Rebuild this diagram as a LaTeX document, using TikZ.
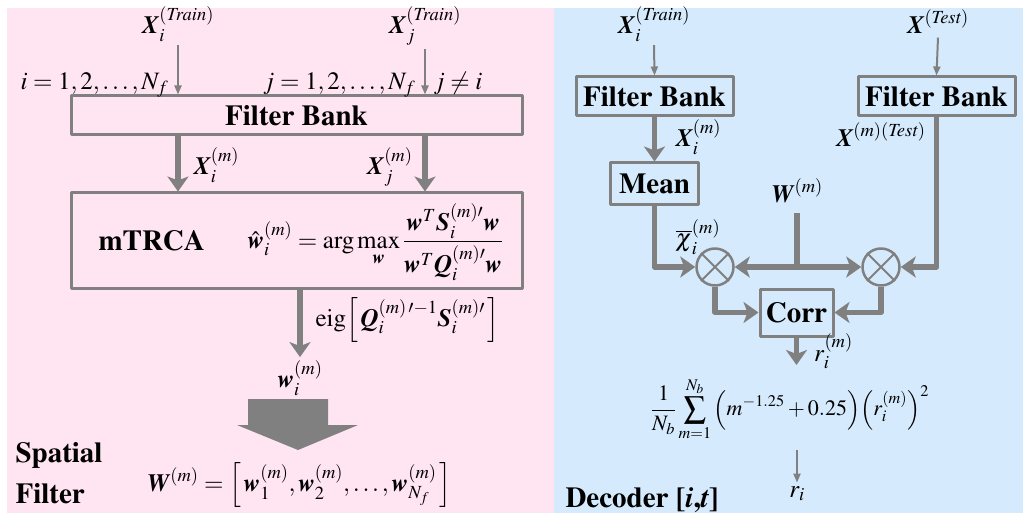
\documentclass[tikz,border=0pt]{standalone}
\usepackage[T1]{fontenc}
\usepackage{amsmath}
\usepackage{mathptmx}
\usetikzlibrary{arrows.meta,positioning}
\definecolor{pinkbg}{RGB}{255,228,242}
\definecolor{bluebg}{RGB}{213,234,252}
\definecolor{arrgray}{RGB}{128,128,128}
\newcommand{\bv}[1]{\textbf{\textit{#1}}}
\begin{document}
\begin{tikzpicture}[x=1pt, y=-1pt, line join=round, >=Stealth,
  font=\fontsize{25}{30}\selectfont,
  bold/.style={font=\fontsize{29}{34}\selectfont\bfseries},
  box/.style={draw=arrgray, line width=3pt, inner sep=0pt, bold},
  thinarr/.style={draw=arrgray, line width=2pt, -{Triangle[length=9pt,width=7pt]}},
  thickline/.style={draw=arrgray, line width=5.5pt},
  thickarr/.style={thickline, -{Stealth[length=15pt,width=21pt,inset=4pt]}},
  mult/.style={circle, draw=arrgray, line width=2.5pt, minimum size=37pt, inner sep=0pt}]
	\useasboundingbox (0,0) rectangle (1023,513);
	\fill[pinkbg] (7,8) rectangle (554,513);
	\fill[bluebg] (554,8) rectangle (1023,513);
	% spatial filter
	\node[anchor=base] (xtri) at (178,34) {$\bv{X}_i^{(\mathit{Train})}$};
	\node[anchor=base] (xtrj) at (425,34) {$\bv{X}_j^{(\mathit{Train})}$};
	\node[box, minimum width=451pt, minimum height=39pt] (fbL) at (296.5,115.5) {Filter Bank};
	\node[box, minimum width=451pt, minimum height=95pt] (trca) at (296.5,240.5) {};
	\draw[thinarr] (xtri.south) -- (fbL.north -| xtri);
	\draw[thinarr] (xtrj.south) -- (fbL.north -| xtrj);
	\node[anchor=base east] (irange) at (172,90) {$i=1,2,\ldots,N_f$};
	\node[anchor=base east] (jrange) at (419,90) {$j=1,2,\ldots,N_f$};
	\node[anchor=base west] (jnoti) at (430,90) {$j\neq i$};
	\draw[thickarr] (fbL.south -| xtri) -- (trca.north -| xtri);
	\draw[thickarr] (fbL.south -| xtrj) -- (trca.north -| xtrj);
	\node[anchor=base west] (xmi) at (190,175) {$\bv{X}_i^{(m)}$};
	\node[anchor=base east] (xmj) at (416,175) {$\bv{X}_j^{(m)}$};
	\node[anchor=base west, bold] (trcaname) at (95,251) {mTRCA};
	\node[anchor=west] (wopt) at (244,242) {$\displaystyle \hat{\bv{w}}_i^{(m)} = \arg\max\limits_{\bv{w}} \frac{\bv{w}^T\bv{S}_i^{(m)\prime}\bv{w}}{\bv{w}^T\bv{Q}_i^{(m)\prime}\bv{w}}$};
	\node (wi) at (300,378) {$\bv{w}_i^{(m)}$};
	\draw[thickarr] (trca.south -| wi) -- (wi.north);
	\node[anchor=west] (eig) at (312,320) {$\mathrm{eig}\Big[\,\bv{Q}_i^{(m)\,\prime-1}\bv{S}_i^{(m)\prime}\,\Big]$};
	\fill[arrgray] (248,399) -- (328,399) -- (328,425) -- (358,425) -- (298,450) -- (237,425) -- (248,425) -- cycle;
	\node (wall) at (299,485) {$\bv{W}^{(m)}=\Big[\,\bv{w}_1^{(m)},\bv{w}_2^{(m)},\ldots,\bv{w}_{N_f}^{(m)}\,\Big]$};
	\node[anchor=base west, bold] (spat) at (12,462) {Spatial};
	\node[anchor=base west, bold] (filt) at (12,503) {Filter};
	% decoder
	\node[anchor=base] (xtrR) at (654,34) {$\bv{X}_i^{(\mathit{Train})}$};
	\node[anchor=base] (xte) at (938,34) {$\bv{X}^{(\mathit{Test})}$};
	\node[box, minimum width=157pt, minimum height=39pt] (fbA) at (654.5,96.5) {Filter Bank};
	\node[box, minimum width=157pt, minimum height=39pt] (fbB) at (936.5,96.5) {Filter Bank};
	\draw[thinarr] (xtrR.south) -- (fbA.north);
	\draw[thinarr] (xte.south) -- (fbB.north);
	\node[box, minimum width=88pt, minimum height=42pt] (mean) at (654.5,184) {Mean};
	\draw[thickarr] (fbA.south) -- (mean.north);
	\node[anchor=base west] (xmR) at (672,147) {$\bv{X}_i^{(m)}$};
	\node[anchor=base east] (xmte) at (929,147) {$\bv{X}^{(m)(\mathit{Test})}$};
	\node[mult] (mulA) at (715,267) {};
	\node[mult] (mulB) at (881,267) {};
	\foreach \m in {mulA,mulB}
		\draw[arrgray, line width=2pt] (\m.45) -- (\m.225) (\m.135) -- (\m.315);
	\node[box, minimum width=73pt, minimum height=47pt] (corr) at (796.5,312.5) {Corr};
	\node[anchor=base] (wm) at (797,203) {$\bv{W}^{(m)}$};
	\coordinate (wtop) at (797,213);
	\coordinate (wjoin) at (797,267);
	\draw[thickline] (wtop) -- (wjoin);
	\draw[thickarr] (wjoin) -- (mulA);
	\draw[thickarr] (wjoin) -- (mulB);
	\draw[thickarr] (mean.south) |- (mulA);
	\draw[thickarr] (fbB.south) |- (mulB);
	\draw[thickarr] (mulA) |- (corr);
	\draw[thickarr] (mulB) |- (corr);
	\node[anchor=base west] (chibar) at (672,247) {$\overline{\boldsymbol{\chi}}_i^{(m)}$};
	\coordinate (rtip) at (796.5,365);
	\draw[thickarr] (corr) -- (rtip);
	\node[anchor=base west, inner sep=1pt] (rim) at (813,361) {$r_i^{(m)}$};
	\node[font=\fontsize{22}{27}\selectfont, inner sep=1pt] (avg) at (790,409) {$\displaystyle\frac{1}{N_b}\sum_{m=1}^{N_b}\Big(m^{-1.25}+0.25\Big)\Big(r_i^{(m)}\Big)^2$};
	\node[anchor=base] (ri) at (797,497) {$r_i$};
	\draw[thinarr, shorten <=8pt] (avg.south -| ri) -- (ri.north);
	\node[anchor=base west, bold] (dec) at (562,507) {Decoder [\textit{i},\textit{t}]};
\end{tikzpicture}
\end{document}
